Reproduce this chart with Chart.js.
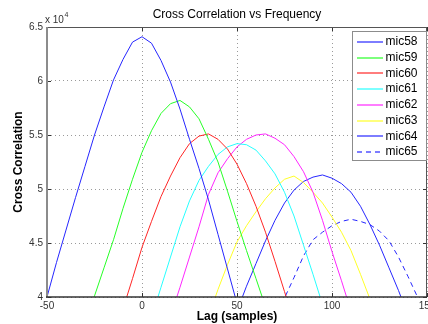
<!DOCTYPE html>
<html>
<head>
<meta charset="utf-8">
<script src="https://cdn.jsdelivr.net/npm/chart.js@4.4.0/dist/chart.umd.min.js"></script>
<style>
  body { margin: 0; background: #fff; }
  #wrap { width: 428px; height: 324px; }
</style>
</head>
<body>
<div id="wrap"><canvas id="ccChart" width="428" height="324"></canvas></div>
<script>
// lag in samples, values in units of 1e4
const lags = [-50, -45, -40, -35, -30, -25, -20, -15, -10, -5, 0, 5, 10, 15, 20, 25, 30, 35, 40, 45,
    50, 55, 60, 65, 70, 75, 80, 85, 90, 95, 100, 105, 110, 115, 120, 125, 130, 135, 140, 145, 150];

const mic58 = [4.00, 4.32, 4.62, 4.92, 5.21, 5.50, 5.76, 6.01, 6.20, 6.36, 6.41, 6.35, 6.19, 5.99, 5.74, 5.46, 5.19, 4.90, 4.58, 4.26,
    3.94, 3.62, null, null, null, null, null, null, null, null, null, null, null, null, null, null, null, null, null, null, null];
const mic59 = [null, null, null, null, 3.77, 4.01, 4.27, 4.53, 4.82, 5.09, 5.34, 5.54, 5.70, 5.79, 5.82, 5.76, 5.65, 5.46, 5.25, 4.98,
    4.70, 4.43, 4.17, 3.91, null, null, null, null, null, null, null, null, null, null, null, null, null, null, null, null, null];
const mic60 = [null, null, null, null, null, null, null, null, 3.89, 4.17, 4.46, 4.70, 4.93, 5.12, 5.29, 5.42, 5.49, 5.51, 5.46, 5.37,
    5.23, 5.05, 4.84, 4.60, 4.33, 4.05, 3.77, null, null, null, null, null, null, null, null, null, null, null, null, null, null];
const mic61 = [null, null, null, null, null, null, null, null, null, null, null, 3.81, 4.09, 4.37, 4.65, 4.89, 5.08, 5.21, 5.32, 5.39,
    5.42, 5.41, 5.36, 5.26, 5.14, 4.97, 4.75, 4.48, 4.21, 3.93, null, null, null, null, null, null, null, null, null, null, null];
const mic62 = [null, null, null, null, null, null, null, null, null, null, null, null, null, 3.82, 4.09, 4.37, 4.65, 4.95, 5.15, 5.28,
    5.39, 5.46, 5.50, 5.51, 5.47, 5.41, 5.30, 5.16, 4.97, 4.71, 4.42, 4.15, 3.87, null, null, null, null, null, null, null, null];
const mic63 = [null, null, null, null, null, null, null, null, null, null, null, null, null, null, null, null, null, 3.82, 4.07, 4.30,
    4.51, 4.66, 4.79, 4.91, 5.01, 5.09, 5.12, 5.06, 4.97, 4.87, 4.74, 4.60, 4.43, 4.21, 3.98, 3.72, null, null, null, null, null];
const mic64 = [null, null, null, null, null, null, null, null, null, null, null, null, null, null, null, null, null, null, null, null,
    3.87, 4.10, 4.31, 4.52, 4.71, 4.87, 4.99, 5.07, 5.11, 5.13, 5.10, 5.05, 4.97, 4.84, 4.67, 4.48, 4.27, 4.06, 3.83, null, null];
const mic65 = [null, null, null, null, null, null, null, null, null, null, null, null, null, null, null, null, null, null, null, null,
    null, null, null, null, 3.78, 3.99, 4.18, 4.38, 4.53, 4.60, 4.66, 4.70, 4.72, 4.70, 4.67, 4.61, 4.52, 4.37, 4.19, 4.00, 3.82];

const seriesNames = ['mic58', 'mic59', 'mic60', 'mic61', 'mic62', 'mic63', 'mic64', 'mic65'];
const seriesColors = ['#2626ff', '#26ff26', '#ff2626', '#26ffff', '#ff26ff', '#ffff26', '#2626ff', '#2626ff'];
const seriesDash = [[], [], [], [], [], [], [], [5, 4]];

const xTicks = [-50, 0, 50, 100, 150];
const yTicks = [4, 4.5, 5, 5.5, 6, 6.5];

const FONT = "'Liberation Sans', Arial, Helvetica, sans-serif";
const allSeries = [mic58, mic59, mic60, mic61, mic62, mic63, mic64, mic65];

const datasets = allSeries.map(function (vals, i) {
    return {
        label: seriesNames[i],
        data: lags.map((x, j) => ({ x: x, y: vals[j] })),
        borderColor: seriesColors[i],
        borderWidth: 1,
        borderDash: seriesDash[i],
        pointRadius: 0,
        tension: 0,
        spanGaps: false
    };
});

// frame, inner tick marks, title, exponent and legend (MATLAB look)
const decorPlugin = {
    id: 'decor',
    afterDraw(chart) {
        const ctx = chart.ctx;
        const a = chart.chartArea;
        const xs = chart.scales.x, ys = chart.scales.y;
        ctx.save();

        // inner ticks
        ctx.strokeStyle = '#333';
        ctx.lineWidth = 1;
        ctx.beginPath();
        xTicks.forEach(v => {
            const px = Math.round(xs.getPixelForValue(v)) + 0.5;
            ctx.moveTo(px, a.bottom); ctx.lineTo(px, a.bottom - 4);
            ctx.moveTo(px, a.top); ctx.lineTo(px, a.top + 4);
        });
        yTicks.forEach(v => {
            const py = Math.round(ys.getPixelForValue(v)) + 0.5;
            ctx.moveTo(a.left, py); ctx.lineTo(a.left + 4, py);
            ctx.moveTo(a.right, py); ctx.lineTo(a.right - 4, py);
        });
        ctx.stroke();

        // box
        ctx.strokeStyle = '#555';
        ctx.lineWidth = 1;
        ctx.beginPath();
        ctx.moveTo(a.left, a.top + 0.5); ctx.lineTo(a.right, a.top + 0.5);
        ctx.moveTo(a.right - 0.5, a.top); ctx.lineTo(a.right - 0.5, a.bottom);
        ctx.stroke();
        ctx.strokeStyle = '#8c8c8c';
        ctx.lineWidth = 2;
        ctx.beginPath();
        ctx.moveTo(a.left, a.top); ctx.lineTo(a.left, a.bottom + 1);
        ctx.stroke();
        ctx.strokeStyle = '#333';
        ctx.lineWidth = 1.5;
        ctx.beginPath();
        ctx.moveTo(a.left - 1, a.bottom); ctx.lineTo(a.right, a.bottom);
        ctx.stroke();

        // title
        ctx.fillStyle = '#000';
        ctx.font = '12px ' + FONT;
        ctx.textAlign = 'center';
        ctx.textBaseline = 'middle';
        ctx.fillText('Cross Correlation vs Frequency', (a.left + a.right) / 2, 15);

        // exponent
        ctx.fillStyle = '#333';
        ctx.textAlign = 'left';
        ctx.font = '10px ' + FONT;
        ctx.fillText('x 10', 45, 20);
        ctx.font = '7px ' + FONT;
        ctx.fillText('4', 64.5, 15);

        // legend
        const lx = 352, ly = 31, lw = 75, lh = 130;
        ctx.fillStyle = '#fff';
        ctx.fillRect(lx, ly, lw, lh);
        ctx.strokeStyle = '#8c8c8c';
        ctx.lineWidth = 1;
        ctx.strokeRect(lx + 0.5, ly + 0.5, lw - 1, lh - 1);
        ctx.font = '12px ' + FONT;
        ctx.textBaseline = 'middle';
        seriesNames.forEach((name, i) => {
            const yy = 42 + i * 15.7;
            ctx.save();
            ctx.globalAlpha = 0.6;
            ctx.strokeStyle = seriesColors[i];
            ctx.lineWidth = 2;
            ctx.setLineDash(seriesDash[i]);
            ctx.beginPath();
            ctx.moveTo(357, Math.round(yy));
            ctx.lineTo(383, Math.round(yy));
            ctx.stroke();
            ctx.restore();
            ctx.fillStyle = '#000';
            ctx.fillText(name, 385.5, yy);
        });
        ctx.restore();
    }
};

new Chart(document.getElementById('ccChart'), {
    type: 'line',
    data: { datasets: datasets },
    plugins: [decorPlugin],
    options: {
        responsive: false,
        animation: false,
        layout: { padding: { top: 27, right: 1, left: 0, bottom: 0 } },
        plugins: {
            legend: { display: false },
            title: { display: false },
            tooltip: { enabled: false }
        },
        scales: {
            x: {
                type: 'linear',
                min: -50,
                max: 150,
                afterBuildTicks: s => { s.ticks = xTicks.map(v => ({ value: v })); },
                afterFit: s => { s.height = 27; s.paddingLeft = 0; s.paddingRight = 0; },
                grid: { color: '#9a9a9a', lineWidth: 1, drawTicks: false },
                border: { display: false, dash: [1, 3] },
                ticks: {
                    color: '#333',
                    padding: 3,
                    maxRotation: 0,
                    autoSkip: false,
                    font: { size: 10, family: FONT },
                    callback: v => String(v)
                },
                title: {
                    display: true,
                    text: 'Lag (samples)',
                    color: '#000',
                    padding: { top: 0, bottom: 0 },
                    font: { size: 12, weight: 'bold', family: FONT }
                }
            },
            y: {
                min: 4,
                max: 6.5,
                afterBuildTicks: s => { s.ticks = yTicks.map(v => ({ value: v })); },
                afterFit: s => { s.width = 47; s.paddingTop = 0; s.paddingBottom = 0; },
                grid: { color: '#9a9a9a', lineWidth: 1, drawTicks: false },
                border: { display: false, dash: [1, 3] },
                ticks: {
                    color: '#333',
                    padding: 4,
                    autoSkip: false,
                    font: { size: 10, family: FONT },
                    callback: v => String(v)
                },
                title: {
                    display: true,
                    text: 'Cross Correlation',
                    color: '#000',
                    padding: { top: 11, bottom: 0 },
                    font: { size: 12, weight: 'bold', family: FONT }
                }
            }
        }
    }
});
</script>
</body>
</html>
